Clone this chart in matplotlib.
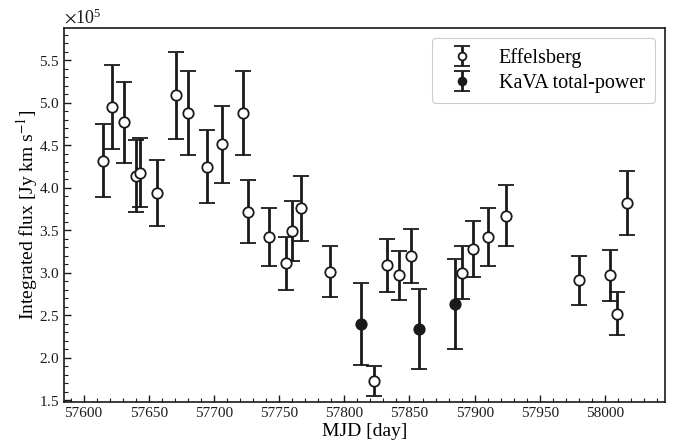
import matplotlib
matplotlib.use("Agg")
import matplotlib.pyplot as plt
from matplotlib.ticker import MultipleLocator, ScalarFormatter
import numpy as np

plt.rcParams['font.family'] = ['Liberation Serif', 'DejaVu Serif']
plt.rcParams['mathtext.fontset'] = 'stix'

# Effelsberg (flux in units of 1e5 Jy km/s)
eff_mjd = [57615, 57622, 57631, 57640, 57643, 57656, 57671, 57680, 57695, 57706,
           57722, 57726, 57742, 57755, 57760, 57767, 57789, 57823, 57833, 57842,
           57851, 57890, 57899, 57910, 57924, 57980, 58004, 58009, 58017]
eff_flux = [4.32, 4.95, 4.77, 4.14, 4.18, 3.94, 5.09, 4.88, 4.25, 4.51,
            4.88, 3.72, 3.42, 3.11, 3.49, 3.76, 3.01, 1.73, 3.09, 2.97,
            3.20, 3.00, 3.28, 3.42, 3.67, 2.91, 2.97, 2.52, 3.82]
eff_err = [0.43, 0.49, 0.48, 0.42, 0.41, 0.39, 0.51, 0.49, 0.43, 0.45,
           0.49, 0.37, 0.34, 0.31, 0.35, 0.38, 0.30, 0.175, 0.31, 0.29,
           0.32, 0.31, 0.33, 0.34, 0.36, 0.29, 0.30, 0.25, 0.38]

# KaVA total-power
kava_mjd = [57813, 57857, 57885]
kava_flux = [2.40, 2.34, 2.63]
kava_err = [0.48, 0.47, 0.53]

scale = 1e5

fig = plt.figure(figsize=(6.78, 4.45), dpi=100)
ax = fig.add_axes([0.0944, 0.0966, 0.8864, 0.8404])

ekw = dict(fmt='o', color='#1a1a1a', ecolor='#1a1a1a', elinewidth=2.0,
           capsize=5.5, capthick=2.0, markersize=7.5, markeredgewidth=1.3,
           markeredgecolor='#1a1a1a')
ax.errorbar(np.array(eff_mjd), np.array(eff_flux) * scale, yerr=np.array(eff_err) * scale,
            markerfacecolor='white', label='Effelsberg', **ekw)
ax.errorbar(np.array(kava_mjd), np.array(kava_flux) * scale, yerr=np.array(kava_err) * scale,
            markerfacecolor='#1a1a1a', label='KaVA total-power', **ekw)

ax.set_xlim(57585, 58046)
ax.set_ylim(1.48e5, 5.88e5)

ax.xaxis.set_major_locator(MultipleLocator(50))
ax.xaxis.set_minor_locator(MultipleLocator(10))
ax.yaxis.set_major_locator(MultipleLocator(0.5e5))
ax.yaxis.set_minor_locator(MultipleLocator(0.1e5))

fmt = ScalarFormatter(useMathText=True)
fmt.set_powerlimits((0, 0))
ax.yaxis.set_major_formatter(fmt)
ax.xaxis.get_major_formatter().set_useOffset(False)

ax.tick_params(axis='both', which='major', direction='in', length=5, width=1.0,
               labelsize=11, colors='#1a1a1a')
ax.tick_params(axis='both', which='minor', direction='in', length=3, width=0.8,
               colors='#1a1a1a')
ax.yaxis.get_offset_text().set_fontsize(13)

for s in ax.spines.values():
    s.set_linewidth(1.2)
    s.set_color('#1a1a1a')

ax.set_xlabel('MJD [day]', fontsize=14, labelpad=2)
ax.set_ylabel('Integrated flux [Jy km s$^{-1}$]', fontsize=14, labelpad=-1)

leg = ax.legend(loc='upper right', fontsize=14.5, frameon=True, fancybox=True,
                edgecolor='#cccccc', framealpha=1.0, borderpad=0.5,
                handletextpad=0.8, labelspacing=0.3, markerscale=0.75,
                handlelength=2.0)
leg.get_frame().set_linewidth(0.8)

fig.savefig('out.png', dpi=100)
